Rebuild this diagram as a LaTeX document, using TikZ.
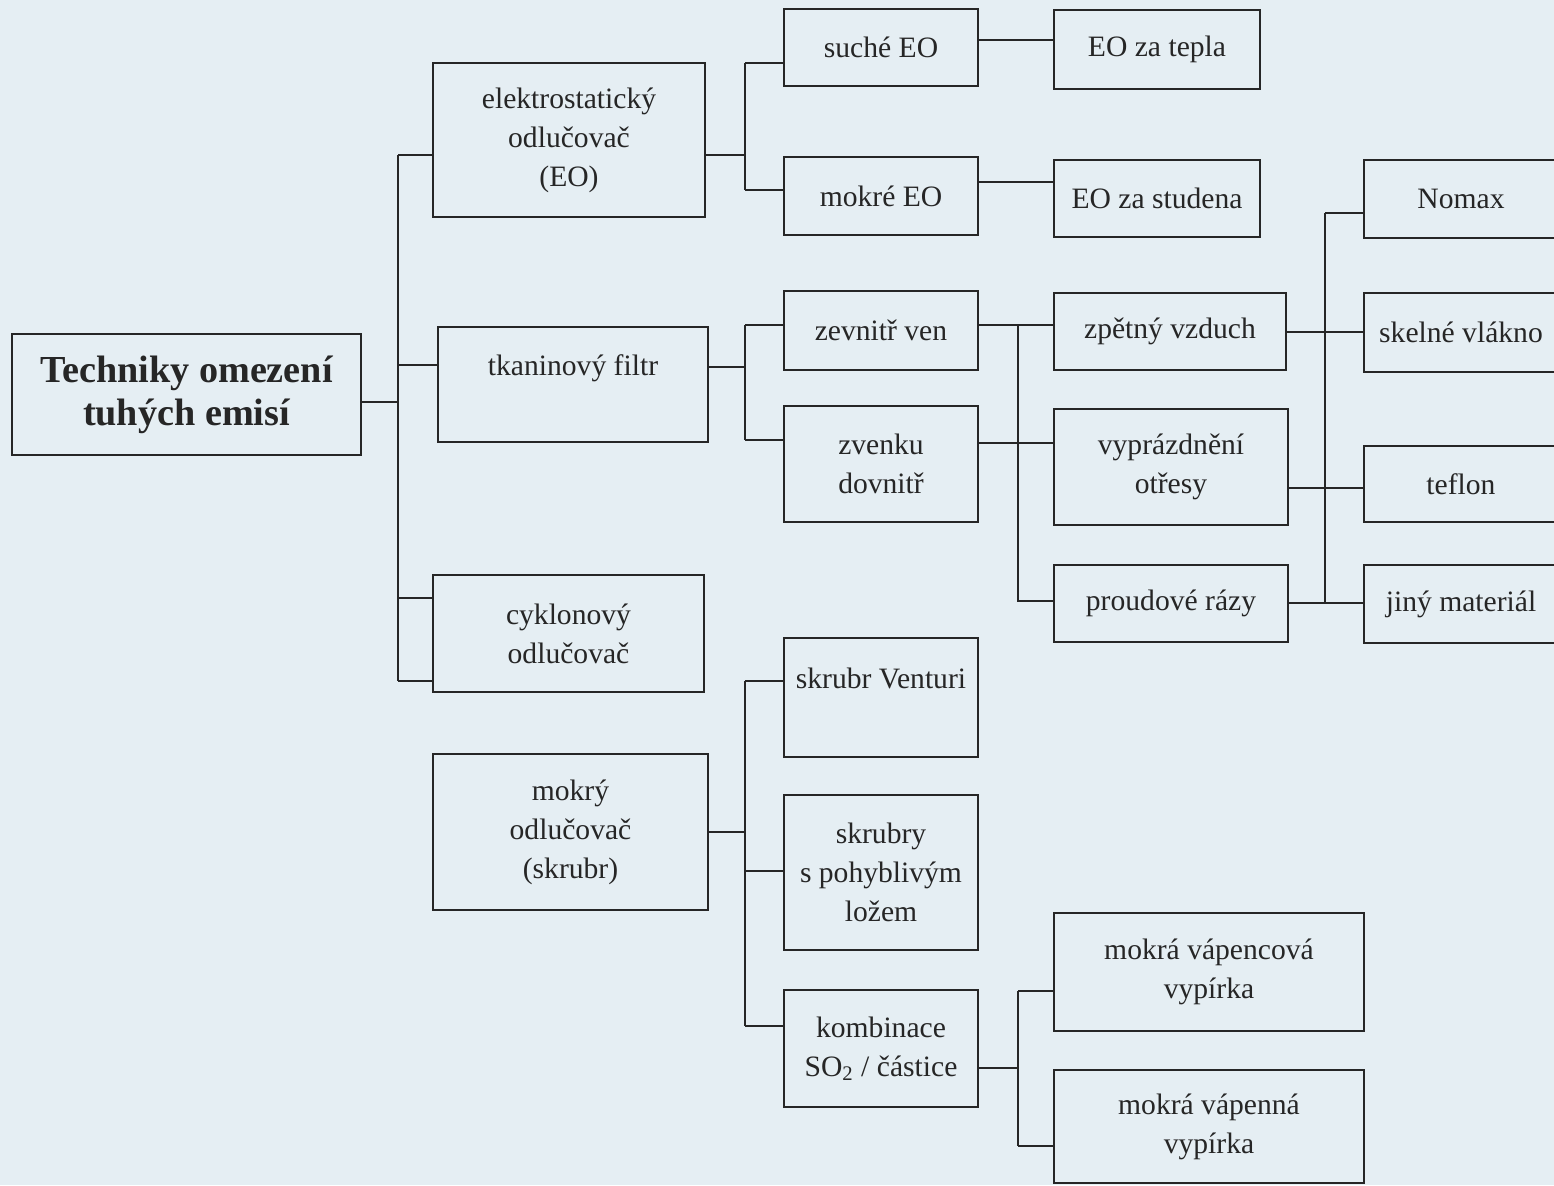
\documentclass[tikz,border=0pt]{standalone}
\usepackage{fontspec}
\setmainfont{Liberation Serif}
\definecolor{scanbg}{RGB}{229,238,243}
\definecolor{ink}{RGB}{38,38,38}

\begin{document}
\begin{tikzpicture}[x=0.5pt, y=-0.5pt, line width=1pt,
        box/.style={draw=ink, text=ink, align=center, inner sep=2pt,
            font=\fontsize{14.8}{19.5}\selectfont},
        link/.style={draw=ink}]
            \useasboundingbox (0,0) rectangle (1554,1185);
            \clip (0,0) rectangle (1554,1185);
            \fill[scanbg] (0,0) rectangle (1554,1185);

            % first level
            \node[box, minimum width=174.5pt, minimum height=60.5pt,
                font=\bfseries\fontsize{19.1}{21.5}\selectfont] (root) at (186.5,394.5) {Techniky omezení\\tuhých emisí};
            \node[box, minimum width=136pt, minimum height=77pt] (eo) at (569,140) {elektrostatický\\odlučovač\\(EO)};
            \node[box, minimum width=135pt, minimum height=57.5pt] (filtr) at (573,384.5) {tkaninový filtr\\\mbox{}};
            \node[box, minimum width=135.5pt, minimum height=58.5pt] (cyklon) at (568.5,633.5) {cyklonový\\odlučovač};
            \node[box, minimum width=137.5pt, minimum height=78pt] (mokry) at (570.5,832) {mokrý\\odlučovač\\(skrubr)};

            % second level
            \node[box, minimum width=97pt, minimum height=38.5pt] (suche) at (881,47.5) {suché EO};
            \node[box, minimum width=97pt, minimum height=39pt] (mokre) at (881,196) {mokré EO};
            \node[box, minimum width=97pt, minimum height=39.5pt] (ven) at (881,330.5) {zevnitř ven};
            \node[box, minimum width=97pt, minimum height=58pt] (dovnitr) at (881,464) {zvenku\\dovnitř};
            \node[box, minimum width=97pt, minimum height=59.5pt] (venturi) at (881,697.5) {skrubr Venturi\\\mbox{}};
            \node[box, minimum width=97pt, minimum height=77.5pt] (loze) at (881,872.5) {skrubry\\s pohyblivým\\ložem};
            \node[box, minimum width=97pt, minimum height=58.5pt] (kombi) at (881,1048.5) {kombinace\\SO\textsubscript{2} / částice};

            % third level
            \node[box, minimum width=103pt, minimum height=39.5pt] (tepla) at (1157,49.5) {EO za tepla};
            \node[box, minimum width=103pt, minimum height=38.5pt] (studena) at (1157,198.5) {EO za studena};
            \node[box, minimum width=116pt, minimum height=38.5pt] (vzduch) at (1170,331.5) {zpětný vzduch};
            \node[box, minimum width=117pt, minimum height=58pt] (otresy) at (1171,467) {vyprázdnění\\otřesy};
            \node[box, minimum width=117pt, minimum height=38.5pt] (razy) at (1171,603.5) {proudové rázy};
            \node[box, minimum width=155pt, minimum height=59pt] (vapenc) at (1209,972) {mokrá vápencová\\vypírka};
            \node[box, minimum width=155pt, minimum height=56.5pt] (vapen) at (1209,1126.5) {mokrá vápenná\\vypírka};

            % materials
            \node[box, minimum width=97pt, minimum height=39pt] (nomax) at (1461,199) {Nomax};
            \node[box, minimum width=97pt, minimum height=39.5pt] (sklo) at (1461,332.5) {skelné vlákno};
            \node[box, minimum width=97pt, minimum height=38pt] (teflon) at (1461,484) {teflon};
            \node[box, minimum width=97pt, minimum height=39pt] (jiny) at (1461,604) {jiný materiál};

            % junctions
            \coordinate (j0) at (398,402);
            \coordinate (j1) at (398,155);
            \coordinate (j2) at (398,365);
            \coordinate (j3) at (398,598);
            \coordinate (j4) at (398,681);
            \coordinate (k0) at (745,155);
            \coordinate (k1) at (745,63);
            \coordinate (k2) at (745,190);
            \coordinate (m0) at (745,367);
            \coordinate (m1) at (745,325);
            \coordinate (m2) at (745,440);
            \coordinate (n1) at (1018,325);
            \coordinate (n2) at (1018,443);
            \coordinate (n3) at (1018,601);
            \coordinate (p1) at (1325,213);
            \coordinate (p2) at (1325,332);
            \coordinate (p3) at (1325,488);
            \coordinate (p4) at (1325,603);
            \coordinate (q0) at (745,832);
            \coordinate (q1) at (745,681);
            \coordinate (q2) at (745,871);
            \coordinate (q3) at (745,1026);
            \coordinate (r0) at (1018,1068);
            \coordinate (r1) at (1018,991);
            \coordinate (r2) at (1018,1146);

            % root tree
            \draw[link] (root.east |- j0) -- (j0);
            \draw[link] (j1) -- (j4);
            \draw[link] (j1) -- (eo.west |- j1);
            \draw[link] (j2) -- (filtr.west |- j2);
            \draw[link] (j3) -- (cyklon.west |- j3);
            \draw[link] (j4) -- (cyklon.west |- j4);

            % EO
            \draw[link] (eo.east |- k0) -- (k0);
            \draw[link] (k1) -- (k2);
            \draw[link] (k1) -- (suche.west |- k1);
            \draw[link] (k2) -- (mokre.west |- k2);
            \draw[link] (suche.east |- 0,40) -- (tepla.west |- 0,40);
            \draw[link] (mokre.east |- 0,182) -- (studena.west |- 0,182);

            % filtr
            \draw[link] (filtr.east |- m0) -- (m0);
            \draw[link] (m1) -- (m2);
            \draw[link] (m1) -- (ven.west |- m1);
            \draw[link] (m2) -- (dovnitr.west |- m2);
            \draw[link] (ven.east |- n1) -- (vzduch.west |- n1);
            \draw[link] (dovnitr.east |- n2) -- (otresy.west |- n2);
            \draw[link] (n1) -- (n3) -- (razy.west |- n3);
            \draw[link] (p1) -- (p4);
            \draw[link] (p1) -- (nomax.west |- p1);
            \draw[link] (vzduch.east |- p2) -- (sklo.west |- p2);
            \draw[link] (otresy.east |- p3) -- (teflon.west |- p3);
            \draw[link] (razy.east |- p4) -- (jiny.west |- p4);

            % skrubr
            \draw[link] (mokry.east |- q0) -- (q0);
            \draw[link] (q1) -- (q3);
            \draw[link] (q1) -- (venturi.west |- q1);
            \draw[link] (q2) -- (loze.west |- q2);
            \draw[link] (q3) -- (kombi.west |- q3);
            \draw[link] (kombi.east |- r0) -- (r0);
            \draw[link] (r1) -- (r2);
            \draw[link] (r1) -- (vapenc.west |- r1);
            \draw[link] (r2) -- (vapen.west |- r2);
        \end{tikzpicture}
\end{document}
